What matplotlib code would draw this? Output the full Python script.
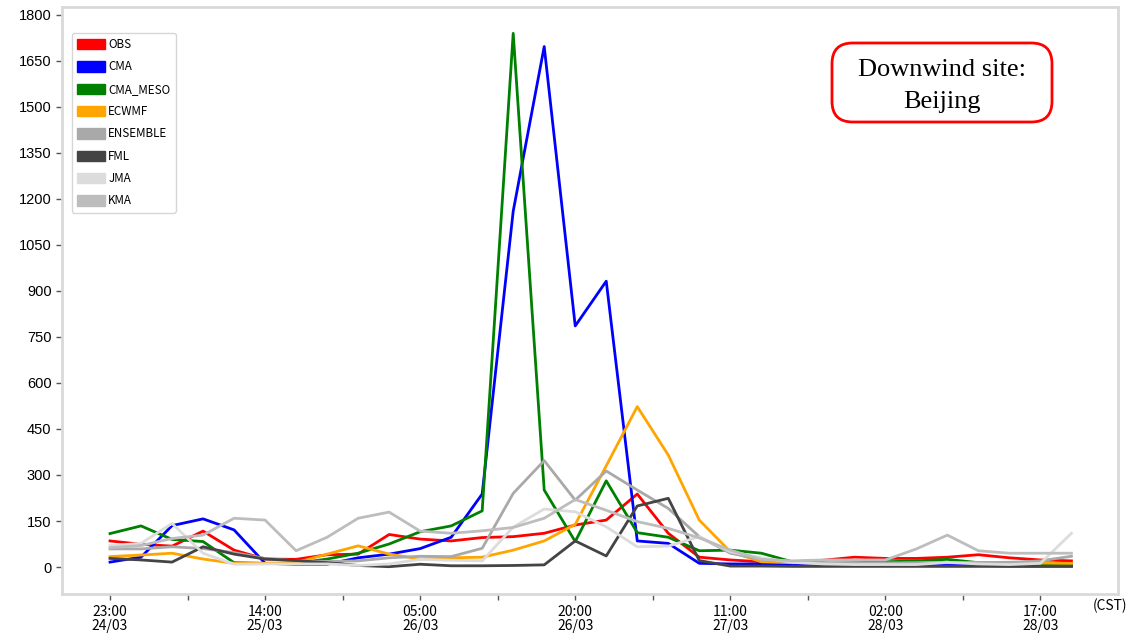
import matplotlib
matplotlib.use("Agg")
import matplotlib.pyplot as plt
from matplotlib.patches import Patch, FancyBboxPatch
import numpy as np

# ---------------- data ----------------
tick_labels = ["23:00\n24/03", "14:00\n25/03", "05:00\n26/03", "20:00\n26/03",
               "11:00\n27/03", "02:00\n28/03", "17:00\n28/03"]
series_names = ["OBS", "CMA", "CMA_MESO", "ECWMF", "ENSEMBLE", "FML", "JMA", "KMA"]
series_colors = ["#ff0000", "#0000ff", "#008000", "#ffa500", "#a9a9a9", "#444444", "#dcdcdc", "#bdbdbd"]

OBS = [85, 74, 68, 117, 55, 26, 25, 40, 42, 106, 91, 85, 96, 99, 110, 137,
       153, 238, 110, 32, 23, 17, 17, 22, 32, 28, 28, 32, 40, 30, 23, 20]
CMA = [16, 32, 135, 157, 121, 12, 9, 9, 30, 42, 60, 97, 238, 1160, 1697, 786,
       932, 85, 77, 12, 10, 10, 8, 5, 5, 5, 5, 5, 5, 3, 3, 3]
CMA_MESO = [109, 134, 90, 83, 14, 12, 12, 26, 45, 75, 115, 134, 183, 1740, 251, 83,
            281, 112, 97, 53, 55, 45, 17, 12, 14, 17, 20, 25, 14, 12, 10, 10]
ECWMF = [34, 39, 45, 26, 12, 12, 14, 42, 69, 42, 26, 30, 32, 55, 85, 139,
         330, 523, 365, 153, 50, 17, 14, 14, 13, 13, 14, 15, 14, 14, 13, 12]
ENSEMBLE = [59, 59, 66, 60, 47, 28, 20, 18, 20, 30, 35, 34, 61, 240, 347, 218,
            313, 251, 191, 99, 45, 25, 15, 12, 12, 12, 12, 15, 15, 15, 20, 35]
FML = [28, 23, 16, 66, 42, 26, 21, 14, 5, 1, 9, 4, 4, 5, 7, 85,
       36, 199, 224, 21, 3, 3, 2, 2, 2, 2, 2, 2, 2, 2, 2, 2]
JMA = [70, 77, 142, 45, 9, 10, 10, 10, 5, 10, 25, 22, 20, 130, 189, 180,
       131, 66, 68, 99, 50, 30, 15, 10, 8, 8, 8, 15, 10, 8, 12, 110]
KMA = [63, 70, 93, 104, 159, 153, 53, 97, 159, 179, 117, 110, 118, 129, 159, 220,
       185, 148, 126, 95, 55, 25, 20, 23, 23, 23, 59, 104, 53, 45, 45, 45]

series = [OBS, CMA, CMA_MESO, ECWMF, ENSEMBLE, FML, JMA, KMA]
y_ticks = list(range(0, 1801, 150))

# ---------------- figure ----------------
fig = plt.figure(figsize=(11.47, 6.34), dpi=100)
ax = fig.add_axes([0.054, 0.0631, 0.9207, 0.9259])

x = np.arange(len(OBS))
for vals, name, col in zip(series, series_names, series_colors):
    ax.plot(x, vals, color=col, lw=2.0, label=name)

ax.set_xlim(-1.55, 32.5)
ax.set_ylim(-88, 1826)
ax.set_yticks(y_ticks)
ax.set_yticklabels([str(v) for v in y_ticks], family="Liberation Sans", fontsize=10.5)

ax.set_xticks(np.arange(0, 31, 5))
ax.set_xticklabels(tick_labels, family=["Noto Sans CJK SC", "DejaVu Sans"], fontsize=10,
                   linespacing=0.95)
ax.set_xticks(np.arange(2.5, 31, 5), minor=True)

for sp in ax.spines.values():
    sp.set_color("#d9d9d9")
    sp.set_linewidth(2)

ax.tick_params(axis="both", which="both", direction="out", color="#555555", length=4, width=1)
ax.tick_params(axis="x", which="major", pad=4)

ax.text(0.992, -0.008, "(CST)", transform=ax.transAxes, ha="center", va="top",
        fontsize=10, family=["Noto Sans CJK SC", "DejaVu Sans"])

handles = [Patch(facecolor=c, edgecolor=c) for c in series_colors]
leg = ax.legend(handles, series_names, loc="upper left", bbox_to_anchor=(0.0095, 0.956),
                borderaxespad=0,
                prop={"family": ["Noto Sans CJK SC", "DejaVu Sans"], "size": 8.4},
                handlelength=2.35, handleheight=1.0, labelspacing=0.8, handletextpad=0.3,
                borderpad=0.45, frameon=True, fancybox=True)
leg.get_frame().set_edgecolor("#cccccc")

# annotation box
box = FancyBboxPatch((832 / 1147, 1 - 122 / 634), 220 / 1147, 79 / 634,
                     boxstyle="round,pad=0,rounding_size=0.018", transform=fig.transFigure,
                     facecolor="white", edgecolor="#ff0000", lw=2, mutation_aspect=1147 / 634)
fig.patches.append(box)
fig.text(942 / 1147, 1 - 86 / 634, "Downwind site:\nBeijing", ha="center", va="center",
         family="Liberation Serif", fontsize=19, linespacing=1.58)

fig.savefig("out.png", dpi=100)
